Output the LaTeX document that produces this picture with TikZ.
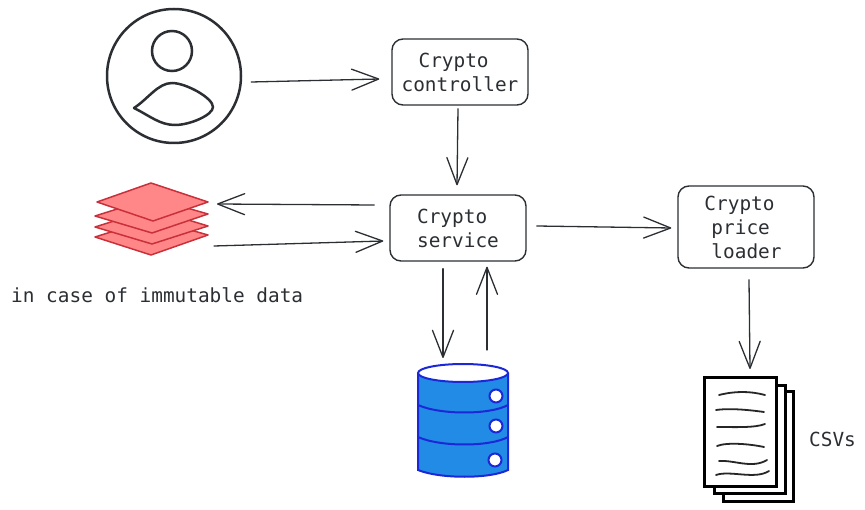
\documentclass[tikz,border=0pt]{standalone}
\usepackage{fontspec}
\usetikzlibrary{arrows.meta,calc}
\setmonofont{DejaVu Sans Mono}
\definecolor{ink}{HTML}{2B2F33}
\definecolor{redfill}{HTML}{FF8787}
\definecolor{redline}{HTML}{C9303A}
\definecolor{dbfill}{HTML}{228BE6}
\definecolor{dbline}{HTML}{1C28D8}
\tikzset{
  x=1pt,y=-1pt,
  lbl/.style={font=\ttfamily\fontsize{19.4}{24}\selectfont,text=ink,inner sep=0pt,align=left},
  boxnode/.style={draw=ink,line width=1.4pt,rounded corners=11pt,inner sep=0pt,
    font=\ttfamily\fontsize{19.4}{24}\selectfont,text=ink,align=left},
  conn/.style={draw=ink,line width=1.3pt,line cap=round,
    -{Straight Barb[length=27pt,width=21pt,line width=1.3pt,round]}},
  sheet/.style={draw=redline,fill=redfill,line width=1.5pt,line join=round},
  person/.style={draw=ink,line width=2.5pt,fill=white},
  dbpart/.style={draw=dbline,line width=2pt},
  dbhole/.style={draw=dbline,fill=white,line width=2pt},
  page/.style={draw=black,fill=white,line width=3pt},
  scrib/.style={draw=black!85,line width=1.8pt,line cap=round},
}
\begin{document}
\begin{tikzpicture}
\useasboundingbox (0,0) rectangle (865,510);
% user
\node[person,circle,minimum size=134pt,inner sep=0pt] (user) at (174,76) {};
\node[person,circle,minimum size=40pt,inner sep=0pt] (head) at (172,51) {};
\draw[person,line join=round] (134,108) .. controls (148,99) and (158,83) .. (172,83)
  .. controls (186,83) and (213,98) .. (213,107)
  .. controls (213,115) and (190,125) .. (175,125)
  .. controls (160,125) and (150,116) .. (134,108) -- cycle;
% boxes
\node[boxnode,minimum width=136pt,minimum height=66pt] (ctrl) at (460,72) {\hspace*{17pt}Crypto\\controller};
\node[boxnode,minimum width=136pt,minimum height=66pt] (svc) at (458,228) {Crypto\\service};
\node[boxnode,minimum width=136pt,minimum height=82pt] (load) at (746,227) {Crypto\\\hspace*{7pt}price\\\hspace*{7pt}loader\hspace*{6pt}};
% layers
\path[sheet] (95,237) -- (152,219) -- (208,235) -- (151,255) -- cycle;
\path[sheet] (95,227) -- (152,209) -- (208,226) -- (152,244) -- cycle;
\path[sheet] (95,216) -- (152,198) -- (208,214) -- (152,233) -- cycle;
\path[sheet] (97,202) -- (151,183) -- (208,202) -- (153,221) -- cycle;
\coordinate (layers) at (212,225);
\node[lbl,anchor=west] (note) at (11,295) {in case of immutable data};
% database
\path[fill=dbfill] (418,373) -- (418,470) .. controls (440,479) and (490,479) .. (508,470) -- (508,373) -- cycle;
\draw[dbpart] (418,373) -- (418,470) .. controls (440,479) and (490,479) .. (508,470) -- (508,373);
\draw[dbpart] (418,405) .. controls (440,415) and (490,415) .. (508,405);
\draw[dbpart] (418,437) .. controls (440,447) and (490,447) .. (508,437);
\draw[dbpart,fill=white] (463,373) ellipse [x radius=45,y radius=9];
\node[dbhole,circle,minimum size=13pt,inner sep=0pt] (h1) at (496,396) {};
\node[dbhole,circle,minimum size=13pt,inner sep=0pt] (h2) at (496,426) {};
\node[dbhole,circle,minimum size=13pt,inner sep=0pt] (h3) at (495,460) {};
\coordinate (db) at (463,364);
% csv
\draw[page] (723,392) rectangle (793,501);
\draw[page] (714,386) rectangle (785,493);
\draw[page] (704,378) rectangle (776,486);
\coordinate (csv) at (750,369);
\draw[scrib] (719,395) .. controls (735,391) and (750,391) .. (765,395);
\draw[scrib] (716,410) .. controls (730,408) and (750,410) .. (764,412);
\draw[scrib] (717,427) .. controls (735,427) and (755,428) .. (765,424);
\draw[scrib] (717,446) .. controls (727,442) and (750,444) .. (764,447);
\draw[scrib] (719,461) .. controls (735,460) and (752,469) .. (767,460);
\draw[scrib] (716,475) .. controls (730,470) and (755,480) .. (769,471);
\node[lbl,anchor=west] (csvs) at (809,439) {CSVs};
% connectors
\draw[conn] ([shift={(9,6)}]user.east) -- ([shift={(-12,7)}]ctrl.west);
\draw[conn] ([shift={(-2,3)}]ctrl.south) -- ([shift={(-1,-9)}]svc.north);
\draw[conn] ([shift={(-15,-23)}]svc.west) -- ([shift={(5,-21)}]layers);
\draw[conn] ([shift={(2,21)}]layers) -- ([shift={(-6,13)}]svc.west);
\draw[conn] ([shift={(10,-2)}]svc.east) -- ([shift={(-6,1)}]load.west);
\draw[conn] ([shift={(-15,7)}]svc.south) -- ([shift={(-20,-6)}]db);
\draw[conn] ([shift={(24,-14)}]db) -- ([shift={(29,5)}]svc.south);
\draw[conn] ([shift={(3,11)}]load.south) -- (csv);
\end{tikzpicture}
\end{document}
